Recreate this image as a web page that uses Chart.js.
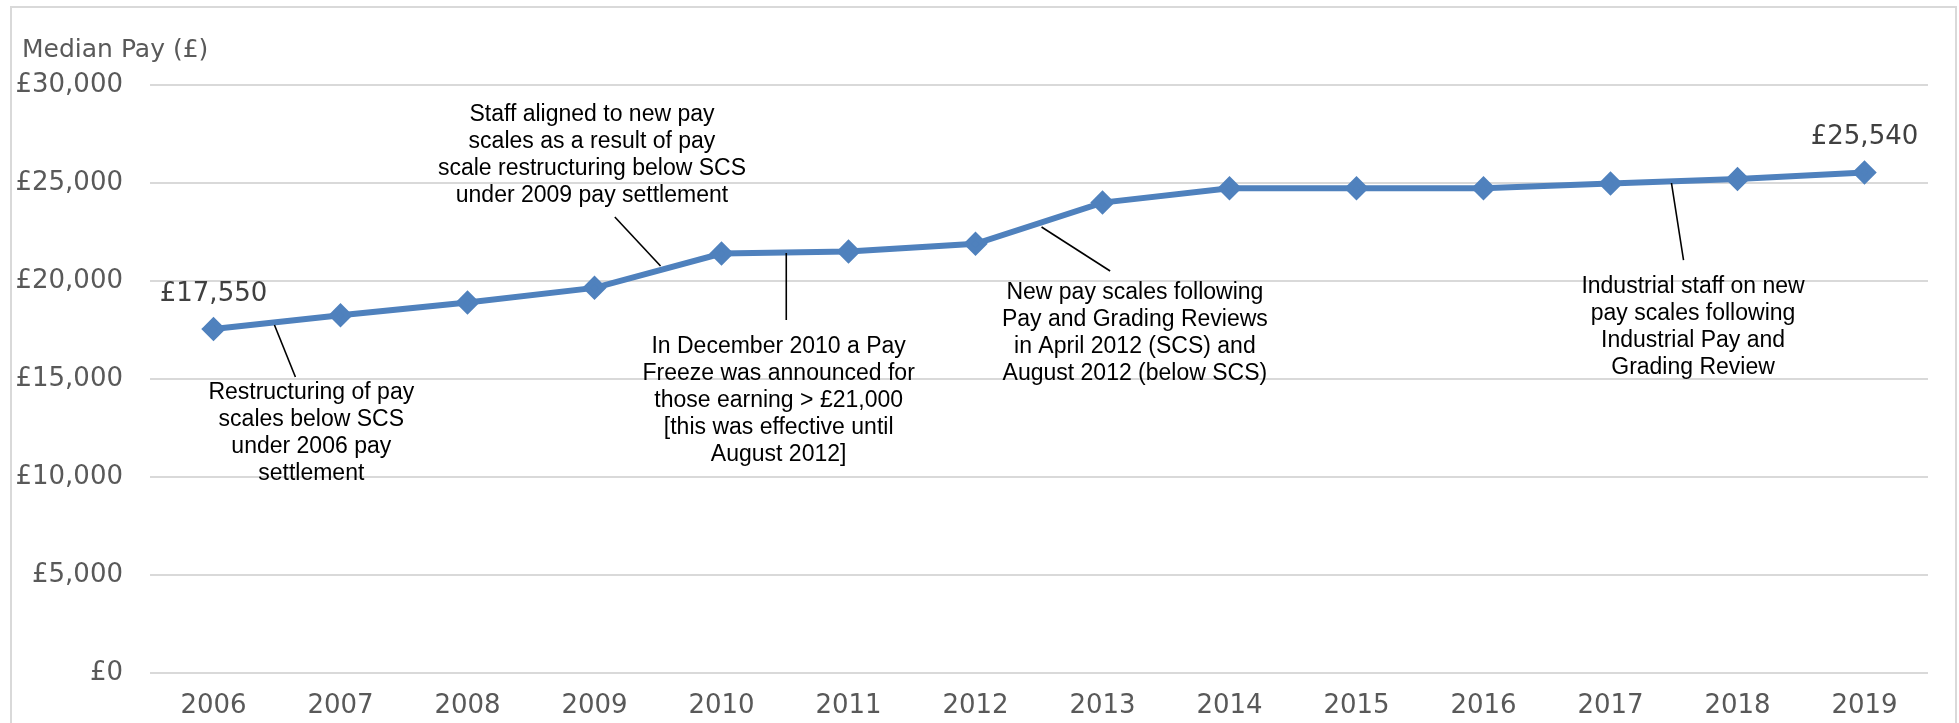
<!DOCTYPE html>
<html>
<head>
<meta charset="utf-8">
<script src="https://cdn.jsdelivr.net/npm/chart.js@4.4.1/dist/chart.umd.min.js"></script>
<style>
  body { margin: 0; background: #fff; }
</style>
</head>
<body>
<canvas id="payChart" width="1959" height="723"></canvas>
<script>
let years = ['2006', '2007', '2008', '2009', '2010', '2011', '2012', '2013', '2014', '2015', '2016', '2017', '2018', '2019'];
let medianPay = [17550, 18250, 18900, 19650, 21400, 21500, 21900, 24000, 24730, 24730, 24730, 24970, 25200, 25540];
let yTicks = [0, 5000, 10000, 15000, 20000, 25000, 30000];

// notes: text anchored at (category index, value), leader from -> to in the same units
let notes = [
  { lines: ['Restructuring of pay', 'scales below SCS', 'under 2006 pay', 'settlement'],
    at: [0.77, 14290], from: [0.48, 17755], to: [0.645, 15100] },
  { lines: ['Staff aligned to new pay', 'scales as a result of pay', 'scale restructuring below SCS', 'under 2009 pay settlement'],
    at: [2.98, 28470], from: [3.16, 23265], to: [3.52, 20765] },
  { lines: ['In December 2010 a Pay', 'Freeze was announced for', 'those earning > £21,000', '[this was effective until', 'August 2012]'],
    at: [4.45, 16630], from: [4.51, 21430], to: [4.51, 18010] },
  { lines: ['New pay scales following', 'Pay and Grading Reviews', 'in April 2012 (SCS) and', 'August 2012 (below SCS)'],
    at: [7.255, 19390], from: [6.52, 22755], to: [7.06, 20510] },
  { lines: ['Industrial staff on new', 'pay scales following', 'Industrial Pay and', 'Grading Review'],
    at: [11.65, 19690], from: [11.48, 25000], to: [11.575, 21070] }
];

let gbp = (v) => '£' + v.toLocaleString('en-GB');

let extras = {
  id: 'extras',
  beforeDraw(chart) {
    let c = chart.ctx;
    c.save();
    c.strokeStyle = '#d9d9d9';
    c.lineWidth = 2;
    c.strokeRect(11, 7, 1945, 740);
    c.restore();
  },
  afterDatasetsDraw(chart) {
    let c = chart.ctx;
    let x = chart.scales.x, y = chart.scales.y;
    c.save();
    // axis title
    c.fillStyle = '#595959';
    c.font = '25px "DejaVu Sans"';
    c.textAlign = 'left';
    c.textBaseline = 'middle';
    c.fillText('Median Pay (£)', 22, 50);

    // first / last value labels
    let meta = chart.getDatasetMeta(0);
    c.fillStyle = '#404040';
    c.font = '26px "DejaVu Sans"';
    c.textAlign = 'center';
    [0, medianPay.length - 1].forEach(i => {
      let p = meta.data[i];
      c.fillText(gbp(medianPay[i]), p.x, p.y - 35);
    });

    // notes with leader lines
    c.strokeStyle = '#000';
    c.lineWidth = 1.6;
    c.fillStyle = '#000';
    c.font = '23px "Liberation Sans"';
    notes.forEach(n => {
      c.beginPath();
      c.moveTo(x.getPixelForValue(n.from[0]), y.getPixelForValue(n.from[1]));
      c.lineTo(x.getPixelForValue(n.to[0]), y.getPixelForValue(n.to[1]));
      c.stroke();
      let tx = x.getPixelForValue(n.at[0]);
      let ty = y.getPixelForValue(n.at[1]);
      n.lines.forEach((line, k) => c.fillText(line, tx, ty + k * 27));
    });
    c.restore();
  }
};

let ctx = document.getElementById('payChart').getContext('2d');

let payChart = new Chart(ctx, {
  type: 'line',
  data: {
    labels: years,
    datasets: [{
      data: medianPay,
      borderColor: '#4f81bd',
      backgroundColor: '#4f81bd',
      borderWidth: 6,
      pointStyle: 'rectRot',
      pointRadius: 8,
      pointHoverRadius: 8,
      tension: 0
    }]
  },
  options: {
    responsive: false,
    animation: false,
    layout: {
      padding: { left: 0, top: 85, right: 31, bottom: 0 }
    },
    plugins: {
      legend: { display: false },
      tooltip: { enabled: false }
    },
    scales: {
      x: {
        offset: true,
        grid: { display: false, drawTicks: false },
        border: { display: false },
        ticks: {
          color: '#595959',
          padding: 18,
          maxRotation: 0,
          font: { family: 'DejaVu Sans', size: 26 }
        },
        afterFit: (s) => { s.height = 50; }
      },
      y: {
        min: 0,
        max: 30000,
        afterBuildTicks: (s) => { s.ticks = yTicks.map(v => ({ value: v })); },
        grid: { color: '#d9d9d9', lineWidth: 2, drawTicks: false },
        border: { display: false },
        ticks: {
          color: '#595959',
          padding: 27,
          font: { family: 'DejaVu Sans', size: 26 },
          callback: (value) => gbp(value)
        },
        afterFit: (s) => { s.width = 150; }
      }
    }
  },
  plugins: [extras]
});
</script>
</body>
</html>
